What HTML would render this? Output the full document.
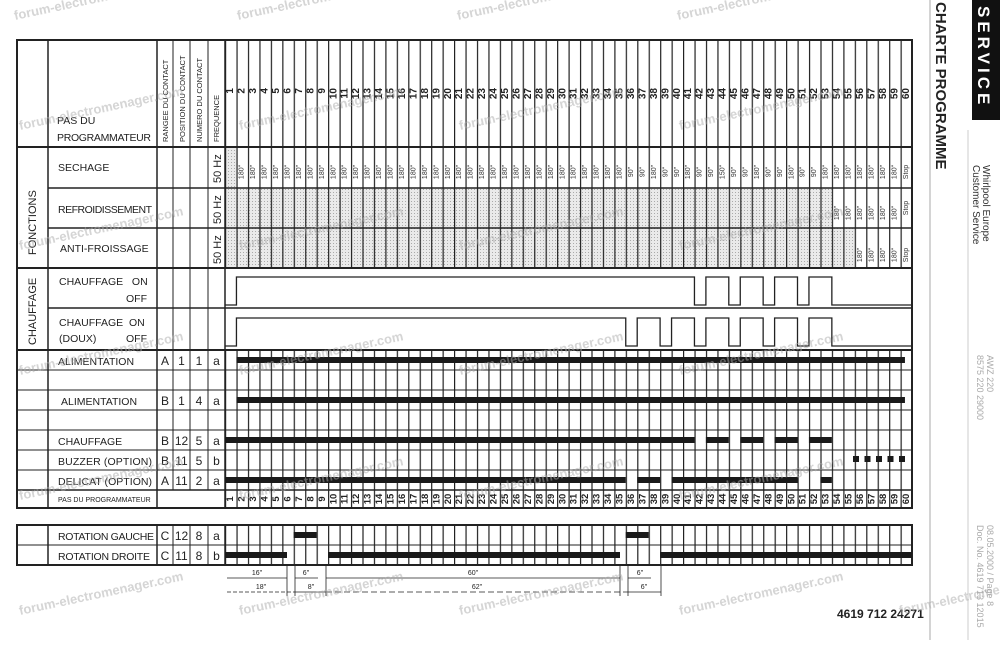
<!DOCTYPE html>
<html><head><meta charset="utf-8"><style>
html,body{margin:0;padding:0;background:#fff;}
svg{display:block;font-family:"Liberation Sans",sans-serif;}
</style></head><body>
<svg width="1000" height="647" viewBox="0 0 1000 647" xmlns="http://www.w3.org/2000/svg">
<defs>
<pattern id="cols" x="225" y="0" width="11.45" height="10" patternUnits="userSpaceOnUse">
<rect x="0" y="0" width="1.2" height="10" fill="#222"/>
</pattern>
<pattern id="dots" width="3" height="3" patternUnits="userSpaceOnUse">
<rect width="3" height="3" fill="#eaeaea"/><rect width="1" height="1" fill="#aaa"/>
</pattern>
</defs>
<rect width="1000" height="647" fill="#fff"/>

<rect x="225" y="147" width="11.45" height="41" fill="url(#dots)"/>
<rect x="225" y="188" width="606.85" height="40" fill="url(#dots)"/>
<rect x="225" y="228" width="629.75" height="40" fill="url(#dots)"/>

<rect x="225" y="40" width="688" height="228" fill="url(#cols)"/>
<rect x="225" y="350" width="688" height="158" fill="url(#cols)"/>
<rect x="225" y="525" width="688" height="40" fill="url(#cols)"/>

<g stroke="#222" fill="none">
<rect x="17" y="40" width="895" height="468" stroke-width="2"/>
<line x1="48" y1="40" x2="48" y2="508" stroke-width="1.5"/>
<line x1="157" y1="40" x2="157" y2="508" stroke-width="1.5"/>
<line x1="173" y1="40" x2="173" y2="490"/>
<line x1="190" y1="40" x2="190" y2="490"/>
<line x1="208" y1="40" x2="208" y2="490"/>
<line x1="225" y1="40" x2="225" y2="508" stroke-width="1.5"/>
<line x1="17" y1="147" x2="912" y2="147" stroke-width="2"/>
<line x1="48" y1="188" x2="912" y2="188" stroke-width="1.5"/>
<line x1="48" y1="228" x2="912" y2="228" stroke-width="1.5"/>
<line x1="17" y1="268" x2="912" y2="268" stroke-width="2"/>
<line x1="48" y1="308" x2="912" y2="308" stroke-width="1.5"/>
<line x1="17" y1="350" x2="912" y2="350" stroke-width="2"/>
<line x1="17" y1="370" x2="912" y2="370"/>
<line x1="17" y1="390" x2="912" y2="390"/>
<line x1="17" y1="410" x2="912" y2="410"/>
<line x1="17" y1="430" x2="912" y2="430"/>
<line x1="17" y1="450" x2="912" y2="450"/>
<line x1="17" y1="470" x2="912" y2="470"/>
<line x1="17" y1="490" x2="912" y2="490" stroke-width="1.5"/>
<rect x="17" y="525" width="895" height="40" stroke-width="2"/>
<line x1="17" y1="545" x2="912" y2="545"/>
<line x1="48" y1="525" x2="48" y2="565" stroke-width="1.5"/>
<line x1="157" y1="525" x2="157" y2="565" stroke-width="1.5"/>
<line x1="173" y1="525" x2="173" y2="565"/>
<line x1="190" y1="525" x2="190" y2="565"/>
<line x1="208" y1="525" x2="208" y2="565"/>
<line x1="225" y1="525" x2="225" y2="565" stroke-width="1.5"/>

<polyline stroke-width="1.3" points="225,305 236.45,305 236.45,277 694.45,277 694.45,305 705.9,305 705.9,277 728.8,277 728.8,305 740.25,305 740.25,277 763.15,277 763.15,305 774.6,305 774.6,277 797.5,277 797.5,305 808.95,305 808.95,277 831.85,277 831.85,305 912,305"/>
<polyline stroke-width="1.3" points="225,346 236.45,346 236.45,318 625.75,318 625.75,346 637.2,346 637.2,318 660.1,318 660.1,346 671.55,346 671.55,318 694.45,318 694.45,346 705.9,346 705.9,318 728.8,318 728.8,346 740.25,346 740.25,318 763.15,318 763.15,346 774.6,346 774.6,318 797.5,318 797.5,346 808.95,346 808.95,318 831.85,318 831.85,346 912,346"/>

<g stroke-width="0.8">
<line x1="287" y1="565" x2="287" y2="596"/><line x1="295" y1="565" x2="295" y2="596"/>
<line x1="326" y1="565" x2="326" y2="596"/><line x1="620" y1="565" x2="620" y2="596"/>
<line x1="628" y1="565" x2="628" y2="596"/><line x1="661" y1="565" x2="661" y2="596"/>
<line x1="227" y1="578" x2="287" y2="578"/><line x1="295" y1="578" x2="318" y2="578"/>
<line x1="326" y1="578" x2="620" y2="578"/><line x1="628" y1="578" x2="651" y2="578"/>
<line x1="227" y1="592" x2="295" y2="592" stroke-dasharray="4,2"/><line x1="295" y1="592" x2="326" y2="592"/>
<line x1="326" y1="592" x2="628" y2="592" stroke-dasharray="6,3"/><line x1="628" y1="592" x2="661" y2="592"/>
</g>
</g>

<g fill="#1a1a1a">
<rect x="236.45" y="357" width="668.5" height="6"/>
<rect x="236.45" y="397" width="668.5" height="6"/>
<rect x="225" y="437" width="469.45" height="6"/>
<rect x="705.9" y="437" width="22.9" height="6"/>
<rect x="740.25" y="437" width="22.9" height="6"/>
<rect x="774.6" y="437" width="22.9" height="6"/>
<rect x="808.95" y="437" width="22.9" height="6"/>
<rect x="225" y="477" width="400.75" height="6"/>
<rect x="637.2" y="477" width="22.9" height="6"/>
<rect x="671.55" y="477" width="125.95" height="6"/>
<rect x="820.4" y="477" width="11.45" height="6"/>
<rect x="293.7" y="532" width="22.9" height="6"/>
<rect x="625.75" y="532" width="22.9" height="6"/>
<rect x="225" y="552" width="62" height="6"/>
<rect x="328" y="552" width="292" height="6"/>
<rect x="660.1" y="552" width="251.9" height="6"/>
<rect x="853" y="456" width="6" height="6"/><rect x="864.5" y="456" width="6" height="6"/>
<rect x="876" y="456" width="6" height="6"/><rect x="887.5" y="456" width="6" height="6"/>
<rect x="899" y="456" width="6" height="6"/>
</g>

<g fill="#222" font-size="10.5">
<text x="57" y="124">PAS DU</text>
<text x="57" y="141" textLength="94">PROGRAMMATEUR</text>
<text x="58" y="171">SECHAGE</text>
<text x="58" y="213" textLength="94">REFROIDISSEMENT</text>
<text x="60" y="252">ANTI-FROISSAGE</text>
<text x="59" y="285">CHAUFFAGE&#160;&#160;&#160;ON</text>
<text x="126" y="302">OFF</text>
<text x="59" y="326">CHAUFFAGE&#160;&#160;ON</text>
<text x="59" y="342">(DOUX)</text><text x="126" y="342">OFF</text>
<text x="58" y="365">ALIMENTATION</text>
<text x="61" y="405">ALIMENTATION</text>
<text x="58" y="445">CHAUFFAGE</text>
<text x="58" y="465" textLength="94">BUZZER (OPTION)</text>
<text x="58" y="485" textLength="94">DELICAT (OPTION)</text>
<text x="58" y="502" font-size="7">PAS DU PROGRAMMATEUR</text>
<text x="58" y="540" textLength="96">ROTATION GAUCHE</text>
<text x="58" y="560" textLength="92">ROTATION DROITE</text>
</g>
<g fill="#222" font-size="12" text-anchor="middle">
<text x="165" y="365">A</text><text x="181.5" y="365">1</text><text x="199" y="365">1</text><text x="216.5" y="365">a</text>
<text x="165" y="405">B</text><text x="181.5" y="405">1</text><text x="199" y="405">4</text><text x="216.5" y="405">a</text>
<text x="165" y="445">B</text><text x="181.5" y="445">12</text><text x="199" y="445">5</text><text x="216.5" y="445">a</text>
<text x="165" y="465">B</text><text x="181.5" y="465">11</text><text x="199" y="465">5</text><text x="216.5" y="465">b</text>
<text x="165" y="485">A</text><text x="181.5" y="485">11</text><text x="199" y="485">2</text><text x="216.5" y="485">a</text>
<text x="165" y="540">C</text><text x="181.5" y="540">12</text><text x="199" y="540">8</text><text x="216.5" y="540">a</text>
<text x="165" y="560">C</text><text x="181.5" y="560">11</text><text x="199" y="560">8</text><text x="216.5" y="560">b</text>
</g>
<g fill="#222" font-size="7.5">
<text transform="translate(168,142) rotate(-90)">RANGEE DU CONTACT</text>
<text transform="translate(185,142) rotate(-90)">POSITION DU CONTACT</text>
<text transform="translate(202,142) rotate(-90)">NUMERO DU CONTACT</text>
<text transform="translate(219,142) rotate(-90)">FREQUENCE</text>
</g>
<g fill="#222" font-size="11">
<text transform="translate(221,183) rotate(-90)">50 Hz</text>
<text transform="translate(221,224) rotate(-90)">50 Hz</text>
<text transform="translate(221,264) rotate(-90)">50 Hz</text>
<text transform="translate(36,255) rotate(-90)" font-size="11">FONCTIONS</text>
<text transform="translate(36,345) rotate(-90)" font-size="11">CHAUFFAGE</text>
</g>
<g fill="#222" font-size="7" text-anchor="middle">
<text x="257" y="575">16"</text><text x="306" y="575">6"</text><text x="473" y="575">60"</text><text x="640" y="575">6"</text>
<text x="261" y="589">18"</text><text x="311" y="589">8"</text><text x="477" y="589">62"</text><text x="644" y="589">6"</text>
</g>

<g fill="#222" font-size="10" font-weight="bold" text-anchor="end" dominant-baseline="central">
<text transform="translate(230.7,88) rotate(-90)">1</text><text transform="translate(242.2,88) rotate(-90)">2</text><text transform="translate(253.6,88) rotate(-90)">3</text><text transform="translate(265.1,88) rotate(-90)">4</text><text transform="translate(276.5,88) rotate(-90)">5</text><text transform="translate(288,88) rotate(-90)">6</text><text transform="translate(299.4,88) rotate(-90)">7</text><text transform="translate(310.9,88) rotate(-90)">8</text><text transform="translate(322.3,88) rotate(-90)">9</text><text transform="translate(333.8,88) rotate(-90)">10</text><text transform="translate(345.2,88) rotate(-90)">11</text><text transform="translate(356.7,88) rotate(-90)">12</text><text transform="translate(368.1,88) rotate(-90)">13</text><text transform="translate(379.6,88) rotate(-90)">14</text><text transform="translate(391,88) rotate(-90)">15</text><text transform="translate(402.5,88) rotate(-90)">16</text><text transform="translate(413.9,88) rotate(-90)">17</text><text transform="translate(425.4,88) rotate(-90)">18</text><text transform="translate(436.8,88) rotate(-90)">19</text><text transform="translate(448.3,88) rotate(-90)">20</text><text transform="translate(459.7,88) rotate(-90)">21</text><text transform="translate(471.2,88) rotate(-90)">22</text><text transform="translate(482.6,88) rotate(-90)">23</text><text transform="translate(494.1,88) rotate(-90)">24</text><text transform="translate(505.5,88) rotate(-90)">25</text><text transform="translate(517,88) rotate(-90)">26</text><text transform="translate(528.4,88) rotate(-90)">27</text><text transform="translate(539.9,88) rotate(-90)">28</text><text transform="translate(551.3,88) rotate(-90)">29</text><text transform="translate(562.8,88) rotate(-90)">30</text><text transform="translate(574.2,88) rotate(-90)">31</text><text transform="translate(585.7,88) rotate(-90)">32</text><text transform="translate(597.1,88) rotate(-90)">33</text><text transform="translate(608.6,88) rotate(-90)">34</text><text transform="translate(620,88) rotate(-90)">35</text><text transform="translate(631.5,88) rotate(-90)">36</text><text transform="translate(642.9,88) rotate(-90)">37</text><text transform="translate(654.4,88) rotate(-90)">38</text><text transform="translate(665.8,88) rotate(-90)">39</text><text transform="translate(677.3,88) rotate(-90)">40</text><text transform="translate(688.7,88) rotate(-90)">41</text><text transform="translate(700.2,88) rotate(-90)">42</text><text transform="translate(711.6,88) rotate(-90)">43</text><text transform="translate(723.1,88) rotate(-90)">44</text><text transform="translate(734.5,88) rotate(-90)">45</text><text transform="translate(746,88) rotate(-90)">46</text><text transform="translate(757.4,88) rotate(-90)">47</text><text transform="translate(768.9,88) rotate(-90)">48</text><text transform="translate(780.3,88) rotate(-90)">49</text><text transform="translate(791.8,88) rotate(-90)">50</text><text transform="translate(803.2,88) rotate(-90)">51</text><text transform="translate(814.7,88) rotate(-90)">52</text><text transform="translate(826.1,88) rotate(-90)">53</text><text transform="translate(837.6,88) rotate(-90)">54</text><text transform="translate(849,88) rotate(-90)">55</text><text transform="translate(860.5,88) rotate(-90)">56</text><text transform="translate(871.9,88) rotate(-90)">57</text><text transform="translate(883.4,88) rotate(-90)">58</text><text transform="translate(894.8,88) rotate(-90)">59</text><text transform="translate(906.3,88) rotate(-90)">60</text>
</g>

<g fill="#222" font-size="9.5" font-weight="bold" text-anchor="middle" dominant-baseline="central">
<text transform="translate(230.7,499) rotate(-90)">1</text><text transform="translate(242.2,499) rotate(-90)">2</text><text transform="translate(253.6,499) rotate(-90)">3</text><text transform="translate(265.1,499) rotate(-90)">4</text><text transform="translate(276.5,499) rotate(-90)">5</text><text transform="translate(288,499) rotate(-90)">6</text><text transform="translate(299.4,499) rotate(-90)">7</text><text transform="translate(310.9,499) rotate(-90)">8</text><text transform="translate(322.3,499) rotate(-90)">9</text><text transform="translate(333.8,499) rotate(-90)">10</text><text transform="translate(345.2,499) rotate(-90)">11</text><text transform="translate(356.7,499) rotate(-90)">12</text><text transform="translate(368.1,499) rotate(-90)">13</text><text transform="translate(379.6,499) rotate(-90)">14</text><text transform="translate(391,499) rotate(-90)">15</text><text transform="translate(402.5,499) rotate(-90)">16</text><text transform="translate(413.9,499) rotate(-90)">17</text><text transform="translate(425.4,499) rotate(-90)">18</text><text transform="translate(436.8,499) rotate(-90)">19</text><text transform="translate(448.3,499) rotate(-90)">20</text><text transform="translate(459.7,499) rotate(-90)">21</text><text transform="translate(471.2,499) rotate(-90)">22</text><text transform="translate(482.6,499) rotate(-90)">23</text><text transform="translate(494.1,499) rotate(-90)">24</text><text transform="translate(505.5,499) rotate(-90)">25</text><text transform="translate(517,499) rotate(-90)">26</text><text transform="translate(528.4,499) rotate(-90)">27</text><text transform="translate(539.9,499) rotate(-90)">28</text><text transform="translate(551.3,499) rotate(-90)">29</text><text transform="translate(562.8,499) rotate(-90)">30</text><text transform="translate(574.2,499) rotate(-90)">31</text><text transform="translate(585.7,499) rotate(-90)">32</text><text transform="translate(597.1,499) rotate(-90)">33</text><text transform="translate(608.6,499) rotate(-90)">34</text><text transform="translate(620,499) rotate(-90)">35</text><text transform="translate(631.5,499) rotate(-90)">36</text><text transform="translate(642.9,499) rotate(-90)">37</text><text transform="translate(654.4,499) rotate(-90)">38</text><text transform="translate(665.8,499) rotate(-90)">39</text><text transform="translate(677.3,499) rotate(-90)">40</text><text transform="translate(688.7,499) rotate(-90)">41</text><text transform="translate(700.2,499) rotate(-90)">42</text><text transform="translate(711.6,499) rotate(-90)">43</text><text transform="translate(723.1,499) rotate(-90)">44</text><text transform="translate(734.5,499) rotate(-90)">45</text><text transform="translate(746,499) rotate(-90)">46</text><text transform="translate(757.4,499) rotate(-90)">47</text><text transform="translate(768.9,499) rotate(-90)">48</text><text transform="translate(780.3,499) rotate(-90)">49</text><text transform="translate(791.8,499) rotate(-90)">50</text><text transform="translate(803.2,499) rotate(-90)">51</text><text transform="translate(814.7,499) rotate(-90)">52</text><text transform="translate(826.1,499) rotate(-90)">53</text><text transform="translate(837.6,499) rotate(-90)">54</text><text transform="translate(849,499) rotate(-90)">55</text><text transform="translate(860.5,499) rotate(-90)">56</text><text transform="translate(871.9,499) rotate(-90)">57</text><text transform="translate(883.4,499) rotate(-90)">58</text><text transform="translate(894.8,499) rotate(-90)">59</text><text transform="translate(906.3,499) rotate(-90)">60</text>
</g>

<g fill="#333" font-size="7" text-anchor="middle" dominant-baseline="central">
<text transform="translate(242.2,172) rotate(-90)">180"</text><text transform="translate(253.6,172) rotate(-90)">180"</text><text transform="translate(265.1,172) rotate(-90)">180"</text><text transform="translate(276.5,172) rotate(-90)">180"</text><text transform="translate(288,172) rotate(-90)">180"</text><text transform="translate(299.4,172) rotate(-90)">180"</text><text transform="translate(310.9,172) rotate(-90)">180"</text><text transform="translate(322.3,172) rotate(-90)">180"</text><text transform="translate(333.8,172) rotate(-90)">180"</text><text transform="translate(345.2,172) rotate(-90)">180"</text><text transform="translate(356.7,172) rotate(-90)">180"</text><text transform="translate(368.1,172) rotate(-90)">180"</text><text transform="translate(379.6,172) rotate(-90)">180"</text><text transform="translate(391,172) rotate(-90)">180"</text><text transform="translate(402.5,172) rotate(-90)">180"</text><text transform="translate(413.9,172) rotate(-90)">180"</text><text transform="translate(425.4,172) rotate(-90)">180"</text><text transform="translate(436.8,172) rotate(-90)">180"</text><text transform="translate(448.3,172) rotate(-90)">180"</text><text transform="translate(459.7,172) rotate(-90)">180"</text><text transform="translate(471.2,172) rotate(-90)">180"</text><text transform="translate(482.6,172) rotate(-90)">180"</text><text transform="translate(494.1,172) rotate(-90)">180"</text><text transform="translate(505.5,172) rotate(-90)">180"</text><text transform="translate(517,172) rotate(-90)">180"</text><text transform="translate(528.4,172) rotate(-90)">180"</text><text transform="translate(539.9,172) rotate(-90)">180"</text><text transform="translate(551.3,172) rotate(-90)">180"</text><text transform="translate(562.8,172) rotate(-90)">180"</text><text transform="translate(574.2,172) rotate(-90)">180"</text><text transform="translate(585.7,172) rotate(-90)">180"</text><text transform="translate(597.1,172) rotate(-90)">180"</text><text transform="translate(608.6,172) rotate(-90)">180"</text><text transform="translate(620,172) rotate(-90)">180"</text><text transform="translate(631.5,172) rotate(-90)">90"</text><text transform="translate(642.9,172) rotate(-90)">90"</text><text transform="translate(654.4,172) rotate(-90)">180"</text><text transform="translate(665.8,172) rotate(-90)">90"</text><text transform="translate(677.3,172) rotate(-90)">90"</text><text transform="translate(688.7,172) rotate(-90)">180"</text><text transform="translate(700.2,172) rotate(-90)">90"</text><text transform="translate(711.6,172) rotate(-90)">90"</text><text transform="translate(723.1,172) rotate(-90)">150"</text><text transform="translate(734.5,172) rotate(-90)">90"</text><text transform="translate(746,172) rotate(-90)">90"</text><text transform="translate(757.4,172) rotate(-90)">180"</text><text transform="translate(768.9,172) rotate(-90)">90"</text><text transform="translate(780.3,172) rotate(-90)">90"</text><text transform="translate(791.8,172) rotate(-90)">180"</text><text transform="translate(803.2,172) rotate(-90)">90"</text><text transform="translate(814.7,172) rotate(-90)">90"</text><text transform="translate(826.1,172) rotate(-90)">180"</text><text transform="translate(837.6,172) rotate(-90)">180"</text><text transform="translate(849,172) rotate(-90)">180"</text><text transform="translate(860.5,172) rotate(-90)">180"</text><text transform="translate(871.9,172) rotate(-90)">180"</text><text transform="translate(883.4,172) rotate(-90)">180"</text><text transform="translate(894.8,172) rotate(-90)">180"</text><text transform="translate(906.3,172) rotate(-90)">Stop</text>
<text transform="translate(837.6,213) rotate(-90)">180"</text><text transform="translate(849,213) rotate(-90)">180"</text><text transform="translate(860.5,213) rotate(-90)">180"</text><text transform="translate(871.9,213) rotate(-90)">180"</text><text transform="translate(883.4,213) rotate(-90)">180"</text><text transform="translate(894.8,213) rotate(-90)">180"</text><text transform="translate(906.3,208) rotate(-90)">Stop</text>
<text transform="translate(860.5,255) rotate(-90)">180"</text><text transform="translate(871.9,255) rotate(-90)">180"</text><text transform="translate(883.4,255) rotate(-90)">180"</text><text transform="translate(894.8,255) rotate(-90)">180"</text><text transform="translate(906.3,255) rotate(-90)">Stop</text>
</g>

<line x1="930" y1="0" x2="930" y2="640" stroke="#aaa" stroke-width="1"/>
<line x1="968" y1="130" x2="968" y2="640" stroke="#ccc" stroke-width="1"/>
<text transform="translate(936,2) rotate(90)" font-size="15" font-weight="bold" fill="#222">CHARTE PROGRAMME</text>
<rect x="972" y="0" width="28" height="120" fill="#111"/>
<text transform="translate(978,6) rotate(90)" font-size="17" font-weight="bold" fill="#fff" letter-spacing="4">SERVICE</text>
<text transform="translate(983,165) rotate(90)" font-size="10" fill="#333">Whirlpool Europe</text>
<text transform="translate(973,165) rotate(90)" font-size="10" fill="#333">Customer Service</text>
<text transform="translate(987,355) rotate(90)" font-size="9" fill="#aaa">AWZ 220</text>
<text transform="translate(977,355) rotate(90)" font-size="9" fill="#aaa">8575 220 29000</text>
<text transform="translate(987,525) rotate(90)" font-size="9" fill="#aaa">08.05.2000 / Page 8</text>
<text transform="translate(977,525) rotate(90)" font-size="9" fill="#aaa">Doc. No. 4619 713 12015</text>
<text x="837" y="618" font-size="12" font-weight="bold" fill="#222">4619 712 24271</text>

<g fill="#aaa" opacity="0.5" font-size="13" font-weight="bold">
<text transform="translate(15,20) rotate(-12)">forum-electromenager.com</text>
<text transform="translate(238,20) rotate(-12)">forum-electromenager.com</text>
<text transform="translate(458,20) rotate(-12)">forum-electromenager.com</text>
<text transform="translate(678,20) rotate(-12)">forum-electromenager.com</text>
<text transform="translate(20,130) rotate(-12)">forum-electromenager.com</text>
<text transform="translate(240,130) rotate(-12)">forum-electromenager.com</text>
<text transform="translate(460,130) rotate(-12)">forum-electromenager.com</text>
<text transform="translate(680,130) rotate(-12)">forum-electromenager.com</text>
<text transform="translate(20,250) rotate(-12)">forum-electromenager.com</text>
<text transform="translate(240,250) rotate(-12)">forum-electromenager.com</text>
<text transform="translate(460,250) rotate(-12)">forum-electromenager.com</text>
<text transform="translate(680,250) rotate(-12)">forum-electromenager.com</text>
<text transform="translate(20,375) rotate(-12)">forum-electromenager.com</text>
<text transform="translate(240,375) rotate(-12)">forum-electromenager.com</text>
<text transform="translate(460,375) rotate(-12)">forum-electromenager.com</text>
<text transform="translate(680,375) rotate(-12)">forum-electromenager.com</text>
<text transform="translate(20,500) rotate(-12)">forum-electromenager.com</text>
<text transform="translate(240,500) rotate(-12)">forum-electromenager.com</text>
<text transform="translate(460,500) rotate(-12)">forum-electromenager.com</text>
<text transform="translate(680,500) rotate(-12)">forum-electromenager.com</text>
<text transform="translate(20,615) rotate(-12)">forum-electromenager.com</text>
<text transform="translate(240,615) rotate(-12)">forum-electromenager.com</text>
<text transform="translate(460,615) rotate(-12)">forum-electromenager.com</text>
<text transform="translate(680,615) rotate(-12)">forum-electromenager.com</text>
<text transform="translate(900,615) rotate(-12)">forum-electromenager.com</text>
</g>
</svg>
</body></html>
